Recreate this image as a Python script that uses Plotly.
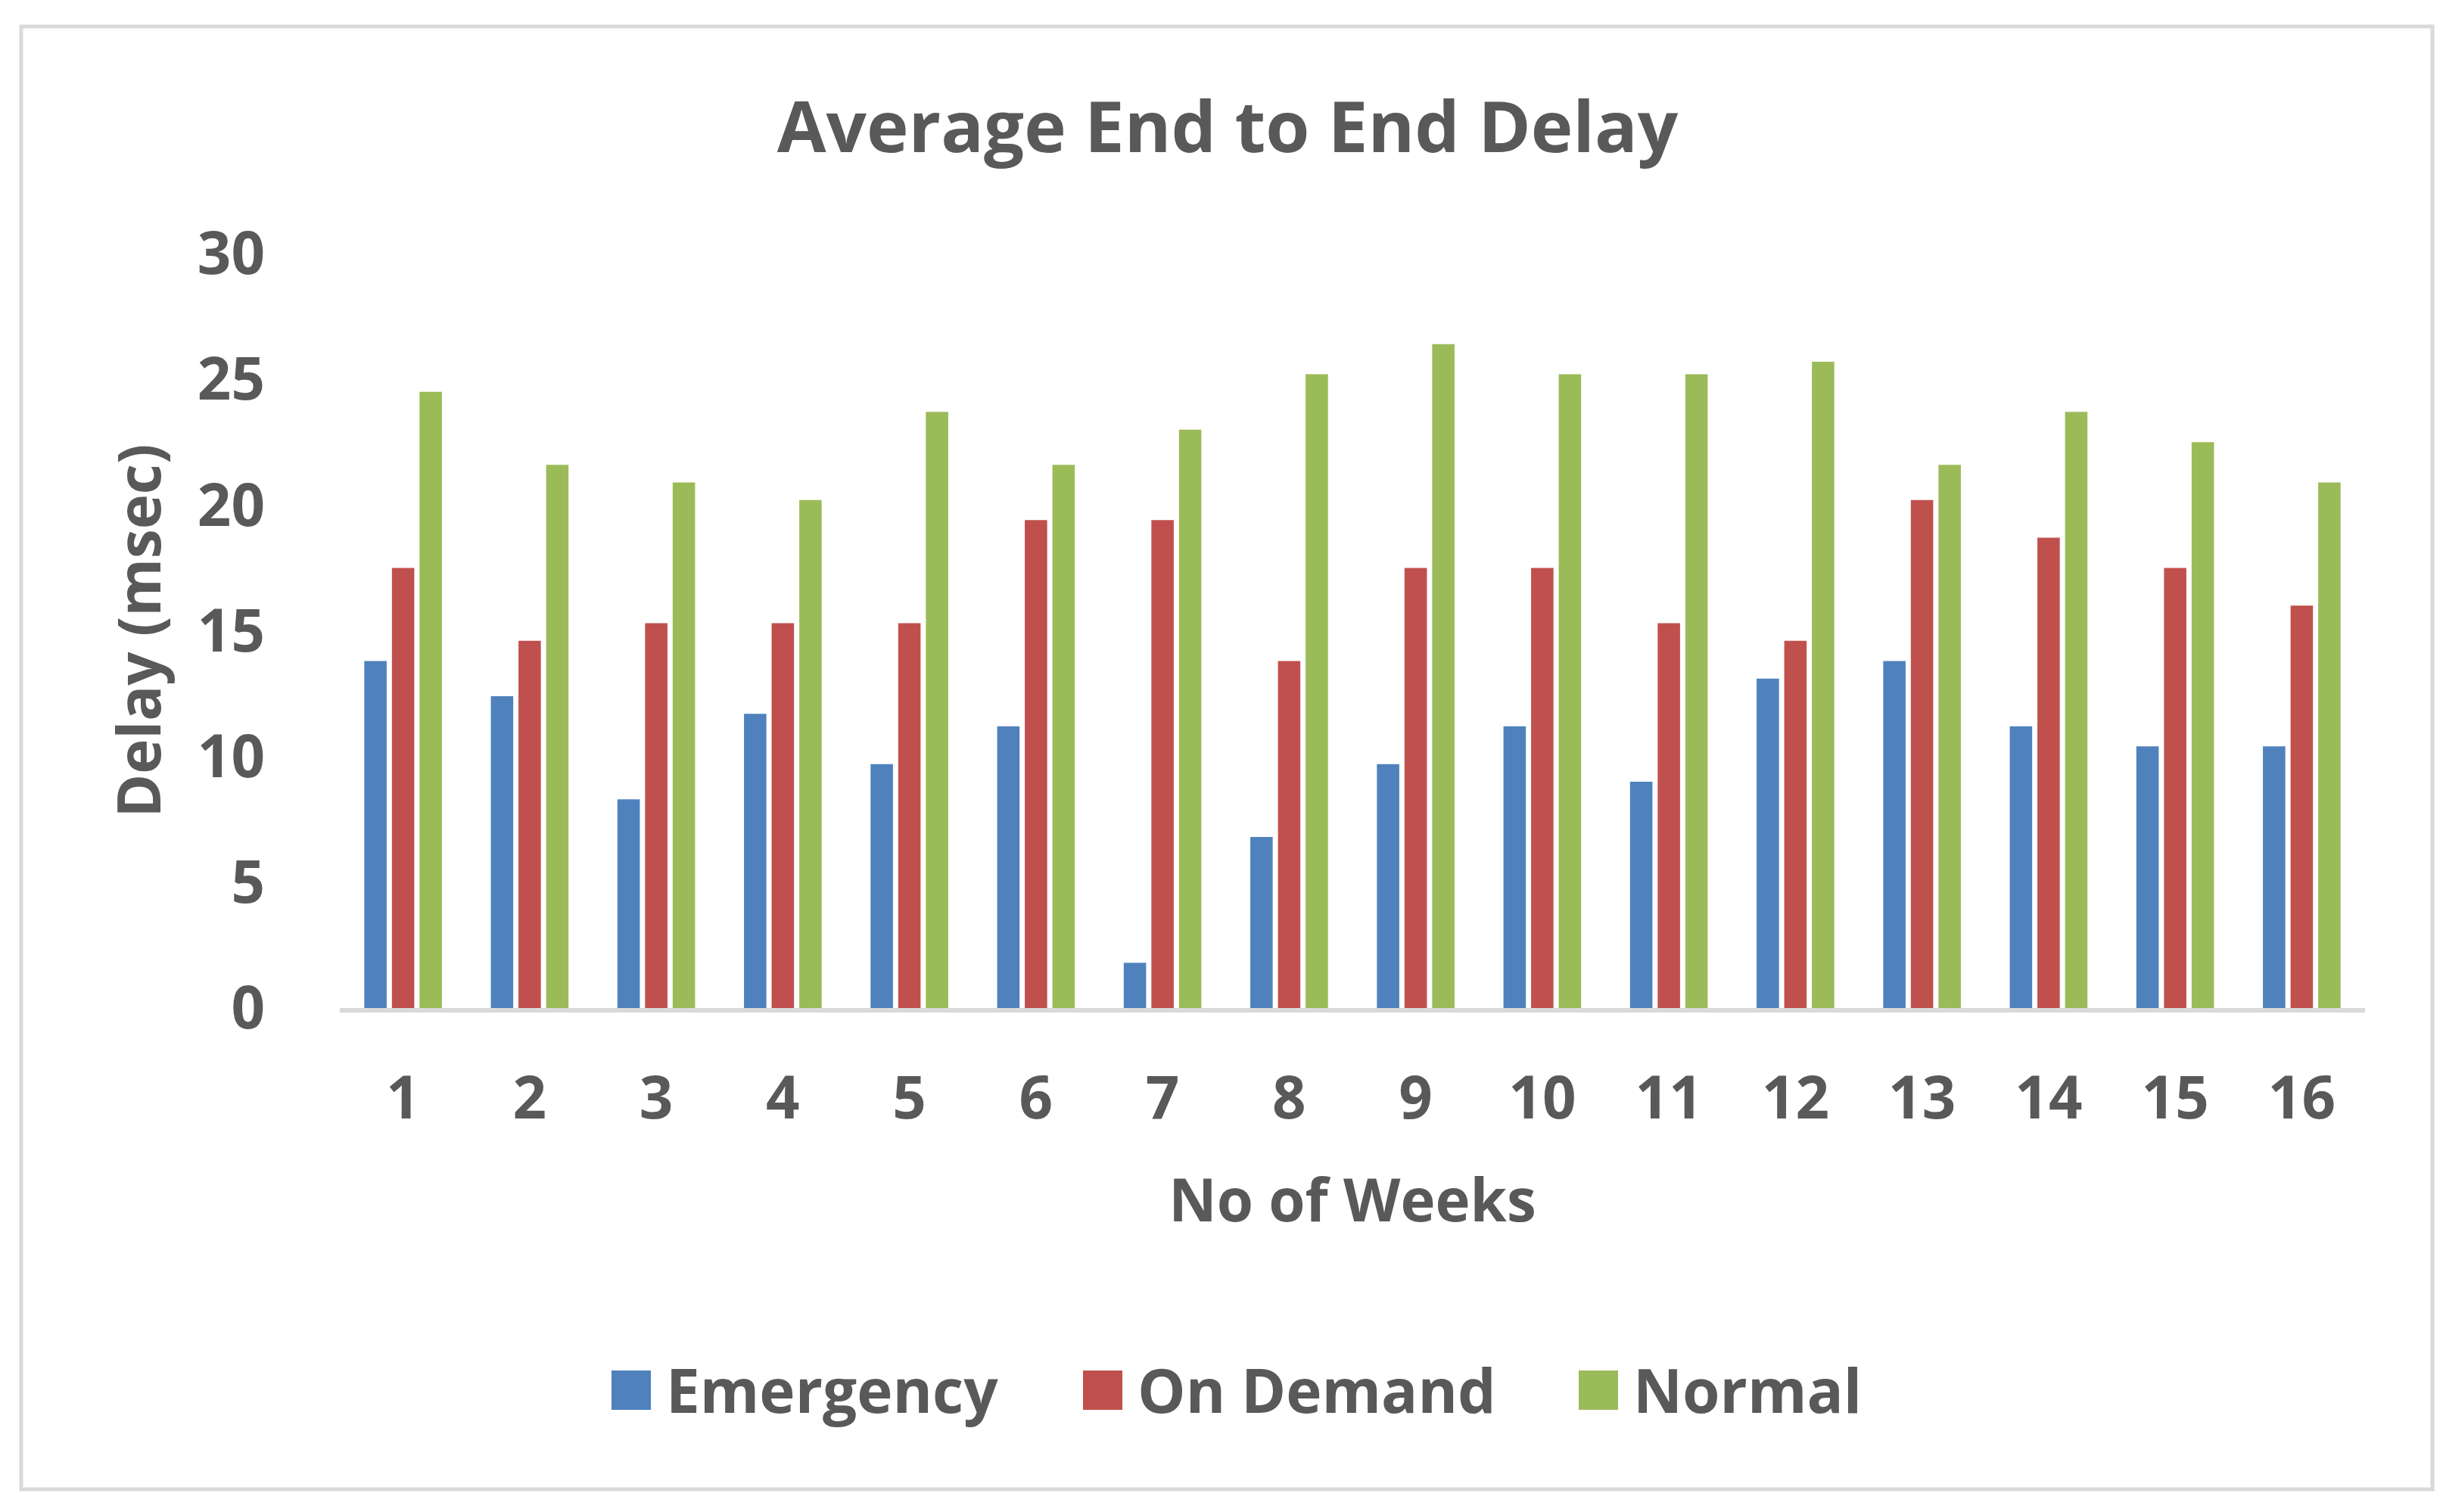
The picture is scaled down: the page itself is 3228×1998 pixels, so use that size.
import plotly.graph_objects as go

weeks = [str(i) for i in range(1, 17)]
emergency = [13.8, 12.4, 8.3, 11.7, 9.7, 11.2, 1.8, 6.8, 9.7, 11.2, 9.0, 13.1, 13.8, 11.2, 10.4, 10.4]
on_demand = [17.5, 14.6, 15.3, 15.3, 15.3, 19.4, 19.4, 13.8, 17.5, 17.5, 15.3, 14.6, 20.2, 18.7, 17.5, 16.0]
normal = [24.5, 21.6, 20.9, 20.2, 23.7, 21.6, 23.0, 25.2, 26.4, 25.2, 25.2, 25.7, 21.6, 23.7, 22.5, 20.9]
series_names = ["Emergency", "On Demand", "Normal"]
colors = ["#4F81BD", "#C0504D", "#9BBB59"]
y_ticks = [0, 5, 10, 15, 20, 25, 30]

W, H = 3228, 1998
L, R, T, B = 441, 111, 327, 674
TXT = "#595959"
FONT = "Open Sans"

pw = W - L - R
ph = H - T - B


def px_x(px):
    return (px - L) / pw


def px_y(py):
    return (H - B - py) / ph


fig = go.Figure()
for name, vals, col in zip(series_names, [emergency, on_demand, normal], colors):
    fig.add_trace(go.Bar(x=weeks, y=vals, name=name, marker_color=col,
                         marker_line_width=0, showlegend=False))

shapes = [
    dict(type="rect", xref="paper", yref="paper",
         x0=px_x(20), x1=px_x(3206), y0=px_y(1960), y1=px_y(27),
         line=dict(color="#D9D9D9", width=5), fillcolor="rgba(0,0,0,0)", layer="below"),
]
annotations = []
# manual legend (large square symbols like the reference)
leg_sq_x = [800, 1423, 2078]
leg_y0, leg_y1 = 1803, 1855
for name, col, sx in zip(series_names, colors, leg_sq_x):
    shapes.append(dict(type="rect", xref="paper", yref="paper",
                       x0=px_x(sx), x1=px_x(sx + 52), y0=px_y(leg_y1), y1=px_y(leg_y0),
                       line=dict(width=0), fillcolor=col))
    annotations.append(dict(text=name, xref="paper", yref="paper",
                            x=px_x(sx + 70), y=px_y((leg_y0 + leg_y1) / 2 - 2),
                            xanchor="left", yanchor="middle", showarrow=False,
                            font=dict(family=FONT, size=80, color=TXT, weight="bold")))

fig.update_layout(
    width=W, height=H,
    margin=dict(l=L, r=R, t=T, b=B),
    paper_bgcolor="white", plot_bgcolor="white",
    barmode="group", bargap=0.345, bargroupgap=0.19,
    title=dict(text="Average End to End Delay", x=0.5, xref="container", xanchor="center",
               y=1 - 160 / H, yref="container", yanchor="middle",
               font=dict(family=FONT, size=94, color=TXT, weight="bold")),
    xaxis=dict(showgrid=False, showline=True, linecolor="#D9D9D9", linewidth=6,
               ticks="", ticklabelstandoff=46,
               tickfont=dict(family=FONT, size=78, color=TXT, weight="bold"),
               title=dict(text="No of Weeks", standoff=62,
                          font=dict(family=FONT, size=78, color=TXT, weight="bold"))),
    yaxis=dict(range=[0, 30], tickvals=y_ticks, showgrid=False, showline=False,
               zeroline=False, ticks="", ticklabelstandoff=98,
               tickfont=dict(family=FONT, size=78, color=TXT, weight="bold"),
               title=dict(text="Delay (msec)", standoff=22,
                          font=dict(family=FONT, size=78, color=TXT, weight="bold"))),
    shapes=shapes,
    annotations=annotations,
)

fig.write_html("out.html")
